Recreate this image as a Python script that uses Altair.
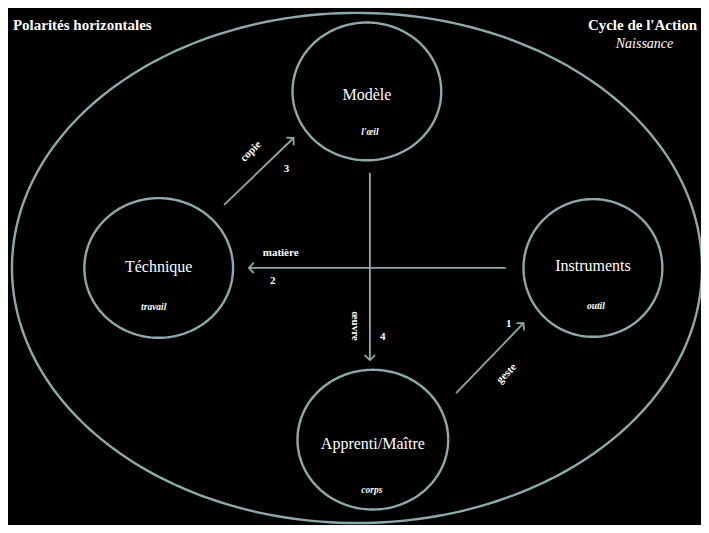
import altair as alt
import numpy as np
import pandas as pd

# ---- data (positions, in reference pixels) ----
node_names = ["Modèle", "Téchnique", "Instruments", "Apprenti/Maître"]
node_sub = ["l'œil", "travail", "outil", "corps"]
node_cx = [372, 162, 600, 378]
node_cy = [86, 268, 268, 445]
node_rx = [75, 75, 70, 76]
node_ry = [71, 72, 71, 72]
name_y = [90, 267, 266, 449]
sub_x = [375, 157, 603, 377]
sub_y = [128, 308, 307, 497]

outer_cx, outer_cy, outer_rx, outer_ry = 362, 268, 348, 263

arrow_labels = ["copie", "matière", "œuvre", "geste"]
arrow_nums = ["3", "2", "4", "1"]
arrow_x1 = [228, 512, 375, 462]
arrow_y1 = [203, 268, 170, 397]
arrow_x2 = [298, 253, 375, 530]
arrow_y2 = [134, 268, 363, 325]
label_x = [255, 285, 360, 513]
label_y = [148, 253, 328, 377]
label_angle = [315, 0, 90, 315]
num_x = [291, 277, 388, 515]
num_y = [166, 281, 339, 326]

title_left = "Polarités horizontales"
title_right = "Cycle de l'Action"
subtitle_right = "Naissance"

STROKE = "#8DAAAA"
FONT = "Liberation Serif, serif"

# ---- tables ----
rows = []
t = np.linspace(0, 2 * np.pi, 241)
ell = [("outer", outer_cx, outer_cy, outer_rx, outer_ry)]
for n, cx, cy, rx, ry in zip(node_names, node_cx, node_cy, node_rx, node_ry):
    ell.append((n, cx, cy, rx, ry))
for name, cx, cy, rx, ry in ell:
    for i, a in enumerate(t):
        rows.append({"name": name, "i": i, "x": cx + rx * np.cos(a), "y": cy + ry * np.sin(a)})
ell_df = pd.DataFrame(rows)

arr_df = pd.DataFrame({"x": arrow_x1, "y": arrow_y1, "x2": arrow_x2, "y2": arrow_y2})
head_df = pd.DataFrame({
    "x": arrow_x2, "y": arrow_y2,
    "ang": [float(np.degrees(np.arctan2(x2 - x1, -(y2 - y1)))) % 360
            for x1, y1, x2, y2 in zip(arrow_x1, arrow_y1, arrow_x2, arrow_y2)],
})
names_df = pd.DataFrame({"x": node_cx, "y": name_y, "t": node_names})
subs_df = pd.DataFrame({"x": sub_x, "y": sub_y, "t": node_sub})
nums_df = pd.DataFrame({"x": num_x, "y": num_y, "t": arrow_nums})

W, H = 693, 517
xs = alt.Scale(domain=[10, 709], nice=False, zero=False)
ys = alt.Scale(domain=[0, 533], nice=False, zero=False, reverse=True)
X = alt.X("x:Q", scale=xs, axis=None)
Y = alt.Y("y:Q", scale=ys, axis=None)

ellipses = alt.Chart(ell_df).mark_line(color=STROKE, strokeWidth=2.4).encode(
    x=X, y=Y, detail="name:N", order="i:Q")

rules = alt.Chart(arr_df).mark_rule(color=STROKE, strokeWidth=1.8).encode(
    x=X, y=Y, x2="x2:Q", y2="y2:Q")

heads = alt.Chart(head_df).mark_point(
    shape="M-0.75,0.7L0,0L0.75,0.7", filled=False, color=STROKE,
    strokeWidth=1.8, size=196, opacity=1).encode(x=X, y=Y, angle=alt.Angle("ang:Q", scale=None))

names = alt.Chart(names_df).mark_text(
    font=FONT, fontSize=16, color="white", align="center", baseline="middle").encode(
    x=X, y=Y, text="t:N")

subs = alt.Chart(subs_df).mark_text(
    font=FONT, fontSize=9.5, fontStyle="italic", fontWeight="bold", color="white",
    align="center", baseline="middle").encode(x=X, y=Y, text="t:N")

nums = alt.Chart(nums_df).mark_text(
    font=FONT, fontSize=11, fontWeight="bold", color="white",
    align="center", baseline="middle").encode(x=X, y=Y, text="t:N")

label_layers = []
for lab, lx, ly, la in zip(arrow_labels, label_x, label_y, label_angle):
    d = pd.DataFrame({"x": [lx], "y": [ly], "t": [lab]})
    label_layers.append(alt.Chart(d).mark_text(
        font=FONT, fontSize=11, fontWeight="bold", color="white", angle=la,
        align="center", baseline="middle").encode(x=X, y=Y, text="t:N"))

titles_df = pd.DataFrame({"x": [15], "y": [18], "t": [title_left]})
titles = alt.Chart(titles_df).mark_text(
    font=FONT, fontSize=15, fontWeight="bold", color="white",
    align="left", baseline="middle").encode(x=X, y=Y, text="t:N")
rt_df = pd.DataFrame({"x": [705], "y": [18], "t": [title_right]})
rtitle = alt.Chart(rt_df).mark_text(
    font=FONT, fontSize=15, fontWeight="bold", color="white",
    align="right", baseline="middle").encode(x=X, y=Y, text="t:N")
rs_df = pd.DataFrame({"x": [652], "y": [37], "t": [subtitle_right]})
rsub = alt.Chart(rs_df).mark_text(
    font=FONT, fontSize=14, fontStyle="italic", color="white",
    align="center", baseline="middle").encode(x=X, y=Y, text="t:N")

chart = alt.layer(ellipses, rules, heads, names, subs, nums, *label_layers,
                  titles, rtitle, rsub).properties(
    width=W, height=H, background="black", padding=0, autosize="none"
).configure_view(strokeWidth=0)

chart.save("out.html", embed_options={"renderer": "svg", "actions": False})
